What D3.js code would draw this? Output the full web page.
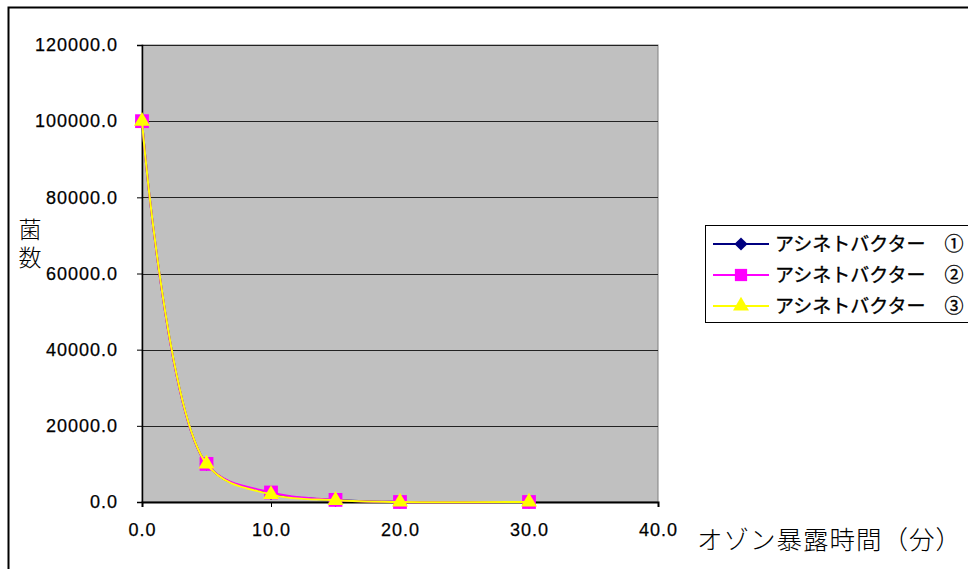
<!DOCTYPE html>
<html>
<head>
<meta charset="utf-8">
<script src="https://cdn.jsdelivr.net/npm/d3@7"></script>
<style>
  html, body { margin: 0; padding: 0; background: #fff; }
  svg { display: block; }
</style>
</head>
<body>
<svg id="chart" width="968" height="569"></svg>
<script>
// Exposure time (minutes) on the x axis
const times = [0, 5, 10, 15, 20, 30];
// Colony counts per strain
const series1 = [100000, 10000, 2300, 500, 0, 0];
const series2 = [100000, 10000, 2500, 550, 0, 0];
const series3 = [100000, 10000, 2000, 450, 0, 0];
const seriesNames = ["アシネトバクター　①", "アシネトバクター　②", "アシネトバクター　③"];
const yTicks = [0, 20000, 40000, 60000, 80000, 100000, 120000];
const xTicks = [0, 10, 20, 30, 40];

const seriesList = [
  { name: seriesNames[0], values: series1, color: "#000080", marker: d3.symbolDiamond2 },
  { name: seriesNames[1], values: series2, color: "#ff00ff", marker: d3.symbolSquare },
  { name: seriesNames[2], values: series3, color: "#ffff00", marker: d3.symbolTriangle }
];

const svg = d3.select("#chart");
const plot = { left: 142, right: 658, top: 45, bottom: 502 };

const x = d3.scaleLinear().domain([0, 40]).range([plot.left, plot.right]);
const y = d3.scaleLinear().domain([0, 120000]).range([plot.bottom, plot.top]);

// Outer chart frame
svg.append("rect")
  .attr("x", 8.5).attr("y", 7.5)
  .attr("width", 980).attr("height", 580)
  .attr("fill", "#fff").attr("stroke", "#000").attr("stroke-width", 2);

// Plot area
svg.append("rect")
  .attr("x", plot.left).attr("y", plot.top)
  .attr("width", plot.right - plot.left).attr("height", plot.bottom - plot.top)
  .attr("fill", "#c0c0c0").attr("stroke", "#808080").attr("stroke-width", 1);

// Horizontal gridlines
svg.append("g")
  .selectAll("line")
  .data(yTicks.filter(d => d > 0))
  .join("line")
  .attr("x1", plot.left).attr("x2", plot.right)
  .attr("y1", d => Math.round(y(d)) + 0.5).attr("y2", d => Math.round(y(d)) + 0.5)
  .attr("stroke", "#222").attr("stroke-width", 1);

const fmt = d3.format(".1f");
const tickFont = sel => sel
  .attr("fill", "#000")
  .attr("stroke", "#000").attr("stroke-width", 0.25)
  .style("font-family", "'Liberation Sans', Arial, sans-serif")
  .style("font-size", "18px")
  .style("letter-spacing", "1px");

// Y axis
const yAxis = svg.append("g")
  .attr("transform", `translate(${plot.left},0)`)
  .call(d3.axisLeft(y).tickValues(yTicks).tickFormat(fmt).tickSize(5).tickPadding(19));
yAxis.select(".domain").attr("stroke", "#000").attr("stroke-width", 1.5);
yAxis.selectAll(".tick line").attr("stroke", "#000");
yAxis.selectAll("text").call(tickFont);

// X axis
const xAxis = svg.append("g")
  .attr("transform", `translate(0,${plot.bottom})`)
  .call(d3.axisBottom(x).tickValues(xTicks).tickFormat(fmt).tickSize(5).tickPadding(16));
xAxis.select(".domain").attr("stroke", "#000").attr("stroke-width", 2);
xAxis.selectAll(".tick line").attr("stroke", "#000");
xAxis.selectAll("text").call(tickFont);

// Smoothed series lines
const line = d3.line()
  .x(d => x(d[0]))
  .y(d => y(d[1]))
  .curve(d3.curveCatmullRom.alpha(0.5));

const markerSize = m => m === d3.symbolTriangle ? 110 : (m === d3.symbolSquare ? 190 : 120);

const groups = svg.append("g").selectAll("g.series")
  .data(seriesList)
  .join("g").attr("class", "series");

groups.append("path")
  .attr("d", s => line(times.map((t, i) => [t, s.values[i]])))
  .attr("fill", "none")
  .attr("stroke", s => s.color)
  .attr("stroke-width", 2);

groups.each(function (s) {
  d3.select(this).selectAll("path.marker")
    .data(times.map((t, i) => [t, s.values[i]]))
    .join("path")
    .attr("class", "marker")
    .attr("d", d3.symbol().type(s.marker).size(markerSize(s.marker)))
    .attr("transform", d => `translate(${x(d[0])},${y(d[1])})`)
    .attr("fill", s.color);
});

// Legend
const legend = svg.append("g");
legend.append("rect")
  .attr("x", 705.5).attr("y", 225.5)
  .attr("width", 300).attr("height", 97)
  .attr("fill", "#fff").attr("stroke", "#000").attr("stroke-width", 1);

const rowY = [244, 275, 306];
seriesList.forEach((s, i) => {
  const g = legend.append("g").attr("transform", `translate(0,${rowY[i]})`);
  g.append("line").attr("x1", 713).attr("x2", 769).attr("y1", 0).attr("y2", 0)
    .attr("stroke", s.color).attr("stroke-width", 2);
  g.append("path")
    .attr("d", d3.symbol().type(s.marker).size(s.marker === d3.symbolSquare ? 150 : 110))
    .attr("transform", "translate(741,0)")
    .attr("fill", s.color);
  g.append("text")
    .attr("x", 775).attr("y", 0).attr("dy", "0.36em")
    .style("font-family", "'Noto Sans CJK JP', sans-serif")
    .style("font-size", "19px")
    .attr("fill", "#000")
    .attr("stroke", "#000").attr("stroke-width", 0.35)
    .text(s.name);
});

// Axis titles
svg.append("text")
  .attr("x", 697).attr("y", 540)
  .attr("dy", "0.35em")
  .style("font-family", "'Noto Sans CJK JP', sans-serif")
  .style("font-size", "25.5px")
  .style("font-weight", 300)
  .style("letter-spacing", "1px")
  .attr("fill", "#000")
  .text("オゾン暴露時間（分）");

// Vertical y-axis title
svg.append("text")
  .attr("x", 30).attr("y", 218)
  .style("writing-mode", "vertical-rl")
  .style("text-orientation", "upright")
  .style("font-family", "'Noto Sans CJK JP', sans-serif")
  .style("font-size", "23px")
  .style("font-weight", 300)
  .style("letter-spacing", "5px")
  .attr("fill", "#000")
  .text("菌数");
</script>
</body>
</html>
